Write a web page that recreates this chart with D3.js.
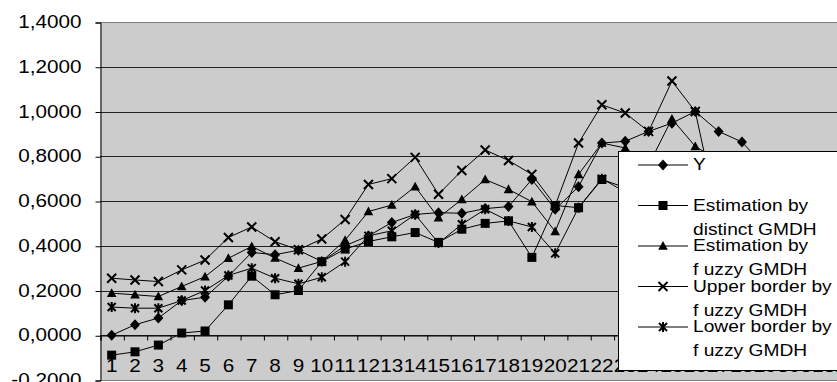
<!DOCTYPE html>
<html>
<head>
<meta charset="utf-8">
<script src="https://cdn.jsdelivr.net/npm/d3@7"></script>
<style>
  body { margin: 0; background: #fff; }
  svg { display: block; font-family: "Liberation Sans", Arial, sans-serif; }
</style>
</head>
<body>
<svg id="chart" width="837" height="382"></svg>
<script>
// categories 1..32 (the ones past 22 sit behind the legend)
const categories = d3.range(1, 33).map(String);

const yValues = [0.000, 0.047, 0.077, 0.155, 0.170, 0.264, 0.370, 0.360, 0.380, 0.330,
  0.400, 0.444, 0.504, 0.540, 0.548, 0.545, 0.566, 0.575, 0.696, 0.563,
  0.664, 0.859, 0.867, 0.911, 0.948, 1.000, 0.911, 0.864, 0.750, 0.700, 0.680, 0.720];
const distinctValues = [-0.089, -0.074, -0.044, 0.010, 0.019, 0.136, 0.264, 0.181, 0.200, 0.329,
  0.385, 0.419, 0.440, 0.459, 0.415, 0.474, 0.500, 0.511, 0.348, 0.580,
  0.570, 0.696, 0.660, 0.700, 0.800, 0.780, 0.700, 0.650, 0.600, 0.550, 0.520, 0.560];
const fuzzyValues = [0.188, 0.181, 0.173, 0.218, 0.262, 0.344, 0.397, 0.345, 0.300, 0.330,
  0.425, 0.553, 0.582, 0.664, 0.525, 0.607, 0.696, 0.652, 0.597, 0.464,
  0.719, 0.859, 0.837, 0.760, 0.967, 0.844, 0.780, 0.720, 0.660, 0.620, 0.600, 0.640];
const upperValues = [0.255, 0.247, 0.240, 0.292, 0.336, 0.437, 0.484, 0.418, 0.382, 0.430,
  0.517, 0.674, 0.700, 0.795, 0.630, 0.736, 0.828, 0.781, 0.719, 0.580,
  0.859, 1.030, 0.993, 0.911, 1.136, 1.000, 0.520, 0.600, 0.550, 0.500, 0.480, 0.520];
const lowerValues = [0.126, 0.121, 0.121, 0.155, 0.200, 0.267, 0.300, 0.255, 0.230, 0.259,
  0.329, 0.444, 0.467, 0.540, 0.412, 0.496, 0.563, 0.511, 0.484, 0.366,
  0.570, 0.700, 0.640, 0.660, 0.720, 0.700, 0.550, 0.500, 0.450, 0.420, 0.400, 0.440];

const yTicks = [-0.2, 0, 0.2, 0.4, 0.6, 0.8, 1.0, 1.2, 1.4];

const series = [
  { name: ["Y"], values: yValues, marker: "diamond" },
  { name: ["Estimation by", "distinct GMDH"], values: distinctValues, marker: "square" },
  { name: ["Estimation by", "f uzzy  GMDH"], values: fuzzyValues, marker: "triangle" },
  { name: ["Upper border by", "f uzzy  GMDH"], values: upperValues, marker: "cross" },
  { name: ["Lower border by", "f uzzy  GMDH"], values: lowerValues, marker: "star" }
];

const svg = d3.select("#chart");
const plotLeft = 100, plotRight = 847, plotTop = 22, plotBottom = 380;

let x = d3.scaleBand().domain(categories).range([plotLeft, plotRight]).padding(0);
let y = d3.scaleLinear().domain([-0.2, 1.4]).range([plotBottom, plotTop]);

// plot area
svg.append("rect")
  .attr("x", plotLeft).attr("y", plotTop)
  .attr("width", plotRight - plotLeft).attr("height", plotBottom - plotTop)
  .attr("fill", "#cccccc");

// gridlines
svg.append("g")
  .selectAll("line")
  .data(yTicks.filter(d => d > -0.2 && d < 1.4))
  .join("line")
  .attr("x1", plotLeft).attr("x2", plotRight)
  .attr("y1", d => Math.round(y(d)) + 0.5).attr("y2", d => Math.round(y(d)) + 0.5)
  .attr("stroke", "#222")
  .attr("stroke-width", 1);

svg.append("line")
  .attr("x1", plotLeft).attr("x2", plotRight)
  .attr("y1", plotTop + 0.5).attr("y2", plotTop + 0.5)
  .attr("stroke", "#808080");
svg.append("line")
  .attr("x1", plotLeft).attr("x2", plotRight)
  .attr("y1", plotBottom + 0.5).attr("y2", plotBottom + 0.5)
  .attr("stroke", "#808080");

// y axis
let yAxis = d3.axisLeft(y)
  .tickValues(yTicks)
  .tickSize(5)
  .tickFormat(d => d.toFixed(4).replace(".", ","));
let gy = svg.append("g")
  .attr("transform", `translate(${plotLeft + 0.5},0.5)`)
  .call(yAxis);
gy.select(".domain").attr("stroke", "#000");
gy.selectAll(".tick line").attr("stroke", "#000");
gy.selectAll(".tick text")
  .attr("x", 0).attr("dy", 0)
  .attr("transform", "translate(-19,5) scale(1.15,1)")
  .attr("font-size", 18)
  .attr("font-family", "Liberation Sans, Arial, sans-serif")
  .attr("fill", "#000");

// x axis: line at zero with ticks between categories
let edge = d3.scaleLinear().domain([0, categories.length]).range([plotLeft, plotRight]);
let gx = svg.append("g")
  .attr("transform", `translate(0.5,${Math.round(y(0)) + 0.5})`)
  .call(d3.axisBottom(edge).tickValues(d3.range(0, categories.length + 1)).tickSize(5).tickFormat(""));
gx.select(".domain").attr("stroke", "#000");
gx.selectAll(".tick line").attr("stroke", "#000");

// category labels at the bottom
svg.append("g")
  .selectAll("text")
  .data(categories)
  .join("text")
  .attr("transform", d => `translate(${x(d) + x.bandwidth() / 2},372) scale(1.15,1)`)
  .attr("text-anchor", "middle")
  .attr("font-size", 18)
  .attr("fill", "#000")
  .text(d => d);

function drawMarker(g, type) {
  if (type === "diamond") {
    g.append("path").attr("d", "M0,-5.5L5,0L0,5.5L-5,0Z").attr("fill", "#000");
  } else if (type === "square") {
    g.append("path").attr("d", "M-4.5,-4.5H4.5V4.5H-4.5Z").attr("fill", "#000");
  } else if (type === "triangle") {
    g.append("path").attr("d", "M0,-5L4.8,3.8L-4.8,3.8Z").attr("fill", "#000");
  } else if (type === "cross") {
    g.append("path").attr("d", "M-4.5,-4.5L4.5,4.5M-4.5,4.5L4.5,-4.5")
      .attr("stroke", "#000").attr("stroke-width", 2).attr("fill", "none");
  } else if (type === "star") {
    g.append("path").attr("d", "M-4,-4L4,4M-4,4L4,-4M0,-5L0,5")
      .attr("stroke", "#000").attr("stroke-width", 2).attr("fill", "none");
  }
}

let line = d3.line()
  .x((d, i) => x(categories[i]) + x.bandwidth() / 2)
  .y(d => y(d));

series.forEach(s => {
  svg.append("path")
    .datum(s.values)
    .attr("d", line)
    .attr("fill", "none")
    .attr("stroke", "#000")
    .attr("stroke-width", 1);

  svg.append("g")
    .selectAll("g")
    .data(s.values)
    .join("g")
    .attr("transform", (d, i) => `translate(${x(categories[i]) + x.bandwidth() / 2},${y(d)})`)
    .each(function () { drawMarker(d3.select(this), s.marker); });
});

// legend
let legend = svg.append("g");
legend.append("rect")
  .attr("x", 618.5).attr("y", 151.5)
  .attr("width", 240).attr("height", 219)
  .attr("fill", "#fff")
  .attr("stroke", "#000");

series.forEach((s, i) => {
  const ly = 165 + i * 40.5;
  legend.append("line")
    .attr("x1", 638).attr("x2", 688)
    .attr("y1", ly).attr("y2", ly)
    .attr("stroke", "#000");
  drawMarker(legend.append("g").attr("transform", `translate(663,${ly})`), s.marker);
  s.name.forEach((t, j) => {
    legend.append("text")
      .attr("transform", `translate(693,${ly + 5 + j * 24}) scale(1.13,1)`)
      .attr("font-size", 17)
      .attr("fill", "#000")
      .text(t);
  });
});
</script>
</body>
</html>
